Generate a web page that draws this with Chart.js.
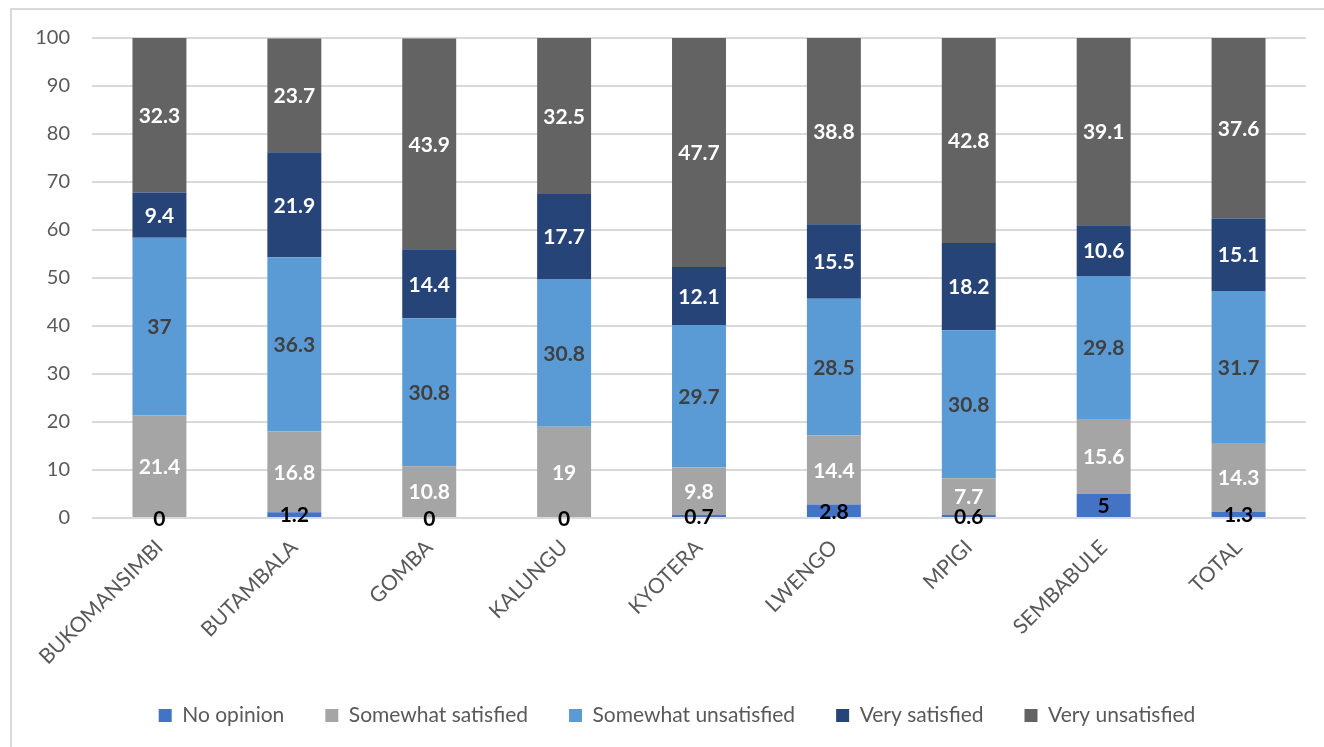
<!DOCTYPE html>
<html>
<head>
<meta charset="utf-8">
<script src="https://cdn.jsdelivr.net/npm/chart.js@4/dist/chart.umd.min.js"></script>
<style>
    html, body {
        margin: 0;
        padding: 0;
        background: #fff;
        overflow: hidden;
    }
    #frame {
        position: absolute;
        left: 10px;
        top: 8px;
        width: 1400px;
        height: 800px;
        border-left: 2px solid #d9d9d9;
        border-top: 2px solid #d9d9d9;
    }
    #chart {
        position: absolute;
        left: 0;
        top: 0;
    }
</style>
</head>
<body>
<div id="frame"></div>
<canvas id="chart" width="1324" height="747"></canvas>

<script>
// districts along the x axis
const districts = ["BUKOMANSIMBI", "BUTAMBALA", "GOMBA", "KALUNGU", "KYOTERA", "LWENGO", "MPIGI", "SEMBABULE", "TOTAL"];

// percentages per answer, stacked bottom to top
const noOpinion           = [0, 1.2, 0, 0, 0.7, 2.8, 0.6, 5, 1.3];
const somewhatSatisfied   = [21.4, 16.8, 10.8, 19, 9.8, 14.4, 7.7, 15.6, 14.3];
const somewhatUnsatisfied = [37, 36.3, 30.8, 30.8, 29.7, 28.5, 30.8, 29.8, 31.7];
const verySatisfied       = [9.4, 21.9, 14.4, 17.7, 12.1, 15.5, 18.2, 10.6, 15.1];
const veryUnsatisfied     = [32.3, 23.7, 43.9, 32.5, 47.7, 38.8, 42.8, 39.1, 37.6];

const yTicks = [0, 10, 20, 30, 40, 50, 60, 70, 80, 90, 100];

const FONT = "Lato";
const AXIS_GREY = "#595959";

// value labels in the middle of each segment
const segmentLabels = {
    id: "segmentLabels",
    afterDatasetsDraw(chart) {
        const ctx = chart.ctx;
        ctx.save();
        ctx.textAlign = "center";
        ctx.textBaseline = "middle";
        chart.data.datasets.forEach((ds, i) => {
            const meta = chart.getDatasetMeta(i);
            if (meta.hidden) return;
            ctx.font = "bold 21px " + FONT;
            ctx.fillStyle = ds.labelColor;
            meta.data.forEach((bar, j) => {
                const y = (bar.y + bar.base) / 2;
                ctx.fillText(String(ds.data[j]), bar.x, y + 1);
            });
        });
        ctx.restore();
    }
};

// nudge the legend row a little to the right
const legendShift = {
    id: "legendShift",
    afterLayout(chart) {
        chart.legend.left += 24;
        chart.legend.right += 24;
    }
};

const mk = (label, data, color, labelColor) => ({
    label, data,
    backgroundColor: color,
    labelColor,
    barPercentage: 0.4,
    categoryPercentage: 1
});

new Chart(document.getElementById("chart"), {
    type: "bar",
    data: {
        labels: districts,
        datasets: [
            mk("No opinion", noOpinion, "#4472c4", "#000000"),
            mk("Somewhat satisfied", somewhatSatisfied, "#a5a5a5", "#ffffff"),
            mk("Somewhat unsatisfied", somewhatUnsatisfied, "#5b9bd5", "#404040"),
            mk("Very satisfied", verySatisfied, "#264478", "#ffffff"),
            mk("Very unsatisfied", veryUnsatisfied, "#636363", "#ffffff")
        ]
    },
    options: {
        responsive: false,
        animation: false,
        layout: {
            padding: { left: 0, right: 18, top: 38, bottom: 11 }
        },
        plugins: {
            tooltip: { enabled: false },
            legend: {
                position: "bottom",
                labels: {
                    font: { family: FONT, size: 21 },
                    color: AXIS_GREY,
                    boxWidth: 13,
                    boxHeight: 13,
                    padding: 41
                }
            }
        },
        scales: {
            x: {
                stacked: true,
                grid: { display: false },
                border: { display: false },
                afterFit(scale) {
                    scale.height = 146;
                },
                ticks: {
                    font: { family: FONT, size: 21 },
                    color: AXIS_GREY,
                    minRotation: 45,
                    maxRotation: 45,
                    padding: 9
                }
            },
            y: {
                stacked: true,
                min: 0,
                max: 100,
                border: { display: false },
                grid: { color: "#d9d9d9", lineWidth: 2, drawTicks: false },
                afterBuildTicks(scale) {
                    scale.ticks = yTicks.map(v => ({ value: v }));
                },
                afterFit(scale) {
                    scale.width = 92;
                },
                ticks: {
                    font: { family: FONT, size: 20 },
                    color: AXIS_GREY,
                    padding: 22
                }
            }
        }
    },
    plugins: [segmentLabels, legendShift]
});
</script>
</body>
</html>
